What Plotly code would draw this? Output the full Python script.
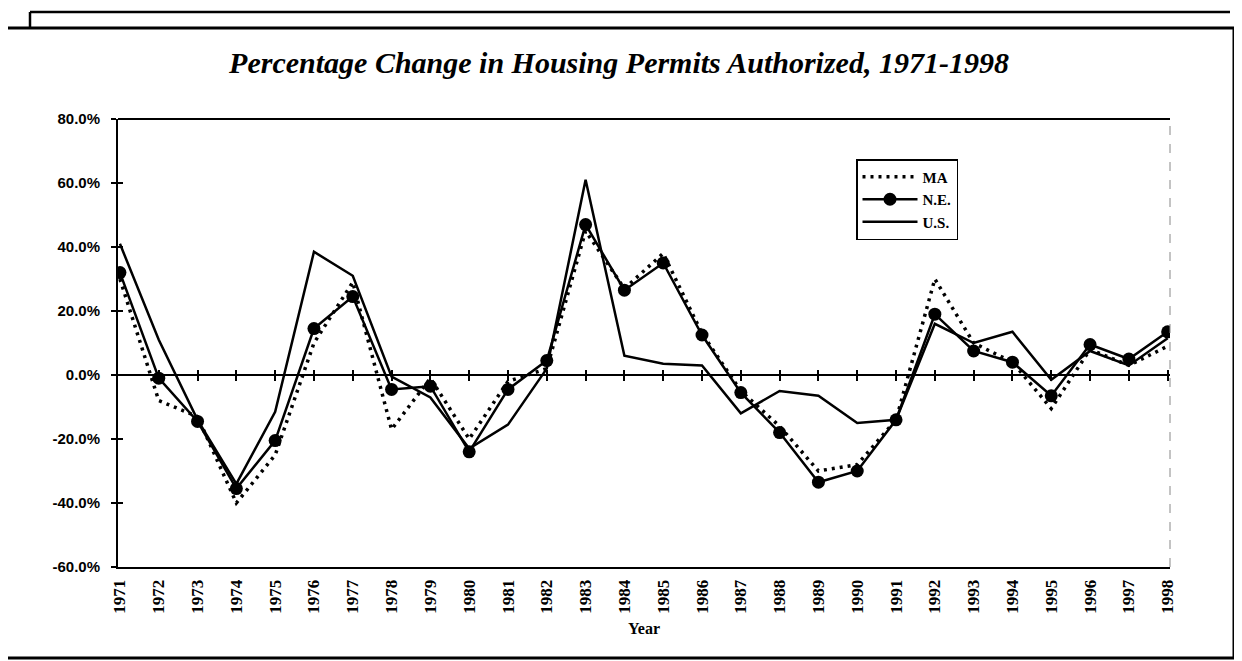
import plotly.graph_objects as go

years = list(range(1971, 1999))
ma = [30, -8, -13, -40, -25, 10, 29, -17, -1, -20, -2, 2, 45, 27, 38, 13,
      -5, -16, -30, -28, -14, 30, 10, 4, -10.5, 8, 3, 9]
ne = [32, -1, -14.5, -35.5, -20.5, 14.5, 24.5, -4.5, -3.5, -24, -4.5, 4.5,
      47, 26.5, 35, 12.5, -5.5, -18, -33.5, -30, -14, 19, 7.5, 4, -6.5, 9.5, 5, 13.5]
us = [41, 11, -14, -34, -11.5, 38.5, 31, -0.5, -7, -23, -15.5, 2, 61, 6,
      3.5, 3, -12, -5, -6.5, -15, -14, 16, 10, 13.5, -1.5, 7.5, 3, 11.5]
y_ticks = [-60, -40, -20, 0, 20, 40, 60, 80]
title_text = "Percentage Change in Housing Permits Authorized, 1971-1998"

# target screen geometry (the page body adds an 8px margin)
W, H = 1242, 661
OFF = 8
FW, FH = W - OFF, H - OFF
L, R, T, B = 118, 1170, 119, 567


def px(x):
    return (x - L) / (R - L)


def py(y):
    return (B - y) / (B - T)


SERIF = "Liberation Serif, Times New Roman, serif"
SANS = "Liberation Sans, Arial, sans-serif"

fig = go.Figure()
fig.add_trace(go.Scatter(x=years, y=ma, name="MA", mode="lines",
                         line=dict(color="black", width=3.5, dash="3px,5px")))
fig.add_trace(go.Scatter(x=years, y=ne, name="N.E.", mode="lines+markers",
                         line=dict(color="black", width=2.5),
                         marker=dict(color="black", size=13)))
fig.add_trace(go.Scatter(x=years, y=us, name="U.S.", mode="lines",
                         line=dict(color="black", width=2.5)))
# carrier traces for the tick-only overlay axes
fig.add_trace(go.Scatter(x=years, y=[None] * len(years), xaxis="x2", yaxis="y",
                         showlegend=False, hoverinfo="skip"))
fig.add_trace(go.Scatter(x=years, y=[None] * len(years), xaxis="x3", yaxis="y",
                         showlegend=False, hoverinfo="skip"))
fig.add_trace(go.Scatter(x=years, y=[None] * len(years), xaxis="x", yaxis="y2",
                         showlegend=False, hoverinfo="skip"))

xr = [1970.95, 1998.06]
zero_pos = (0 - y_ticks[0]) / (y_ticks[-1] - y_ticks[0])

fig.update_layout(
    width=FW, height=FH,
    margin=dict(l=L - OFF, r=W - R, t=T - OFF, b=H - B),
    paper_bgcolor="white", plot_bgcolor="white",
    showlegend=True,
    title=dict(text=title_text, x=(619 - OFF) / FW, xanchor="center",
               xref="container",
               y=1 - (62 - OFF) / FH, yref="container", yanchor="middle",
               font=dict(family=SERIF, size=30, color="black",
                         weight="bold", style="italic")),
    xaxis=dict(range=xr, tickmode="array", tickvals=years,
               ticktext=[str(y) for y in years], tickangle=-90,
               showgrid=False, zeroline=False, showline=True,
               linecolor="black", linewidth=2, ticks="",
               ticklabelstandoff=4,
               tickfont=dict(family=SERIF, size=17, color="black", weight="bold"),
               title=dict(text="Year", standoff=10,
                          font=dict(family=SERIF, size=16, color="black",
                                    weight="bold"))),
    xaxis2=dict(range=xr, matches="x", overlaying="x", anchor="free",
                position=zero_pos, tickmode="array", tickvals=years[1:],
                ticks="outside", ticklen=5, tickwidth=1.5, tickcolor="black",
                showticklabels=False, showgrid=False, zeroline=False,
                showline=False),
    xaxis3=dict(range=xr, matches="x", overlaying="x", anchor="free",
                position=zero_pos, tickmode="array", tickvals=years[1:],
                ticks="inside", ticklen=5, tickwidth=1.5, tickcolor="black",
                showticklabels=False, showgrid=False, zeroline=False,
                showline=False),
    yaxis=dict(range=[y_ticks[0], y_ticks[-1]], tickmode="array",
               tickvals=y_ticks, ticktext=[f"{v:.1f}%" for v in y_ticks],
               showgrid=False, zeroline=True, zerolinecolor="black",
               zerolinewidth=1.5, showline=True, linecolor="black",
               linewidth=2, ticks="outside", ticklen=5, tickwidth=1.5,
               tickcolor="black", ticklabelstandoff=8,
               tickfont=dict(family=SANS, size=15, color="black", weight="bold")),
    yaxis2=dict(range=[y_ticks[0], y_ticks[-1]], matches="y", overlaying="y",
                anchor="x", side="left", tickmode="array", tickvals=y_ticks,
                ticks="inside", ticklen=5, tickwidth=1.5, tickcolor="black",
                showticklabels=False, showgrid=False, zeroline=False,
                showline=False),
    legend=dict(x=px(856), y=py(159), xanchor="left", yanchor="top",
                bordercolor="black", borderwidth=1.5, bgcolor="white",
                font=dict(family=SERIF, size=15, color="black", weight="bold"),
                tracegroupgap=0, itemwidth=55),
)

shapes = [
    # top border of plot area (solid) and faint dashed right border
    dict(type="line", xref="paper", yref="paper", x0=0, x1=1, y0=1, y1=1,
         line=dict(color="black", width=2)),
    dict(type="line", xref="paper", yref="paper", x0=1, x1=1, y0=0, y1=1,
         line=dict(color="#888888", width=1, dash="dash")),
    # main frame
    dict(type="rect", xref="paper", yref="paper", x0=px(5), x1=px(1234),
         y0=py(658), y1=py(28), line=dict(color="black", width=3)),
    # shadow frame behind
    dict(type="line", xref="paper", yref="paper", x0=px(30), x1=px(1230),
         y0=py(12), y1=py(12), line=dict(color="black", width=2.5)),
    dict(type="line", xref="paper", yref="paper", x0=px(30), x1=px(30),
         y0=py(12), y1=py(28), line=dict(color="black", width=2.5)),
]
fig.update_layout(shapes=shapes)

fig.write_html("out.html")
